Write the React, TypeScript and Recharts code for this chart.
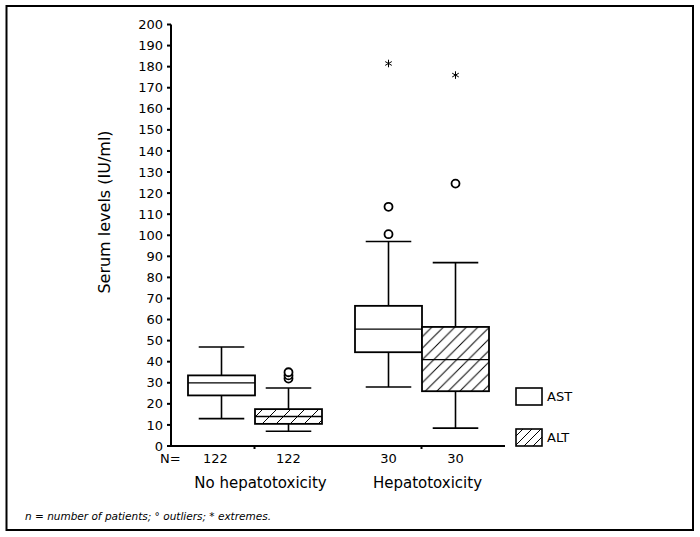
import React from 'react';
import { ComposedChart, Bar, XAxis, YAxis, Legend } from 'recharts';

const categories = ['No hepatotoxicity', 'Hepatotoxicity'];
const seriesNames = ['AST', 'ALT'];
const astN = [122, 30];
const altN = [122, 30];
const astMin = [13, 28];
const astQ1 = [24, 44.5];
const astMedian = [30, 55.5];
const astQ3 = [33.5, 66.5];
const astMax = [47, 97];
const astOutliers = [[], [100.5, 113.5]];
const astExtremes = [[], [181.5]];
const altMin = [7, 8.5];
const altQ1 = [10.5, 26];
const altMedian = [14, 41];
const altQ3 = [17.5, 56.5];
const altMax = [27.5, 87];
const altOutliers = [[32, 33.5, 35], [124.5]];
const altExtremes = [[], [176]];
const yTicks = [0, 10, 20, 30, 40, 50, 60, 70, 80, 90, 100, 110, 120, 130, 140, 150, 160, 170, 180, 190, 200];

const FONT = '"DejaVu Sans", sans-serif';

const data = categories.map((c, i) => ({
  category: c,
  ast: [astMin[i], astMax[i]],
  alt: [altMin[i], altMax[i]],
  astStats: { min: astMin[i], q1: astQ1[i], med: astMedian[i], q3: astQ3[i], max: astMax[i], out: astOutliers[i], ext: astExtremes[i], n: astN[i] },
  altStats: { min: altMin[i], q1: altQ1[i], med: altMedian[i], q3: altQ3[i], max: altMax[i], out: altOutliers[i], ext: altExtremes[i], n: altN[i] },
}));

const HatchDefs = ({ id, size }: { id: string; size: number }) => (
  <defs>
    <pattern id={id} patternUnits="userSpaceOnUse" width={size} height={size}>
      <rect x={0} y={0} width={size} height={size} fill="#fff" />
      <path
        d={`M0,${size} L${size},0 M${-size / 4},${size / 4} L${size / 4},${-size / 4} M${(size * 3) / 4},${(size * 5) / 4} L${(size * 5) / 4},${(size * 3) / 4}`}
        stroke="#000"
        strokeWidth={1}
      />
    </pattern>
  </defs>
);

const BoxShape = (props: any) => {
  const { x, y, width, height, payload, series } = props;
  const s = payload[series + 'Stats'];
  const hatched = series === 'alt';
  const pix = (v: number) => y + (height * (s.max - v)) / (s.max - s.min);
  const cx = x + width / 2;
  const capW = width * 0.68;
  const pid = 'hatch-' + series + '-' + payload.category.replace(/\s/g, '');
  const stroke = '#000';
  const isFirst = payload.category === categories[0];
  return (
    <g>
      {hatched && <HatchDefs id={pid} size={isFirst ? 14 : 11.5} />}
      <line x1={cx} x2={cx} y1={pix(s.max)} y2={pix(s.q3)} stroke={stroke} strokeWidth={1.6} />
      <line x1={cx} x2={cx} y1={pix(s.q1)} y2={pix(s.min)} stroke={stroke} strokeWidth={1.6} />
      <line x1={cx - capW / 2} x2={cx + capW / 2} y1={pix(s.max)} y2={pix(s.max)} stroke={stroke} strokeWidth={1.6} />
      <line x1={cx - capW / 2} x2={cx + capW / 2} y1={pix(s.min)} y2={pix(s.min)} stroke={stroke} strokeWidth={1.6} />
      <rect x={x} y={pix(s.q3)} width={width} height={pix(s.q1) - pix(s.q3)} fill={hatched ? `url(#${pid})` : '#fff'} stroke={stroke} strokeWidth={1.8} />
      <line x1={x} x2={x + width} y1={pix(s.med)} y2={pix(s.med)} stroke={stroke} strokeWidth={1.3} />
      {s.out.map((v: number, i: number) => (
        <circle key={'o' + i} cx={cx} cy={pix(v)} r={4} fill="#fff" stroke={stroke} strokeWidth={1.8} />
      ))}
      {s.ext.map((v: number, i: number) => {
        const py = pix(v);
        return (
          <g key={'e' + i} stroke={stroke} strokeWidth={1}>
            <line x1={cx} x2={cx} y1={py - 3.8} y2={py + 3.8} />
            <line x1={cx - 3.3} x2={cx + 3.3} y1={py - 1.9} y2={py + 1.9} />
            <line x1={cx - 3.3} x2={cx + 3.3} y1={py + 1.9} y2={py - 1.9} />
          </g>
        );
      })}
      <text x={cx - (series === 'ast' && isFirst ? 6 : 0)} y={pix(0) + 16.5} textAnchor="middle" fontSize={13} fontFamily={FONT} fill="#000">
        {s.n}
      </text>
    </g>
  );
};

const GroupTick = (props: any) => {
  const { x, y, payload } = props;
  return (
    <text x={x + 6} y={y + 37} textAnchor="middle" fontSize={15} fontFamily={FONT} fill="#000">
      {payload.value}
    </text>
  );
};

const LegendContent = (props: any) => {
  const items = [...(props.payload || [])].sort(
    (a: any, b: any) => seriesNames.indexOf(a.value) - seriesNames.indexOf(b.value)
  );
  return (
    <div style={{ fontFamily: FONT, fontSize: 13, color: '#000' }}>
      {items.map((it: any, i: number) => {
        const hatched = it.dataKey === 'alt';
        const pid = 'leg-hatch-' + i;
        return (
          <div key={i} style={{ display: 'flex', alignItems: 'center', height: 19, marginBottom: 22 }}>
            <svg width={30} height={19} style={{ display: 'block' }}>
              {hatched && <HatchDefs id={pid} size={9} />}
              <rect x={1} y={1} width={26} height={17} fill={hatched ? `url(#${pid})` : '#fff'} stroke="#000" strokeWidth={1.6} />
            </svg>
            <span style={{ marginLeft: 2 }}>{it.value}</span>
          </div>
        );
      })}
    </div>
  );
};

export default function App() {
  return (
    <div style={{ position: 'absolute', left: 0, top: 0, width: 700, height: 537, background: '#fff' }}>
      <svg width={700} height={537} style={{ position: 'absolute', left: 0, top: 0 }}>
        <rect x={6.5} y={6} width={686.5} height={524} fill="#fff" stroke="#000" strokeWidth={2} />
      </svg>
      <div style={{ position: 'absolute', left: 0, top: 0 }}>
        <ComposedChart
          width={700}
          height={537}
          data={data}
          margin={{ top: 24.5, right: 195, bottom: 31, left: 0 }}
          barGap={0}
          barSize={67}
        >
          <XAxis
            dataKey="category"
            height={60}
            tickSize={3}
            tickMargin={2}
            axisLine={{ stroke: '#000', strokeWidth: 2 }}
            tickLine={{ stroke: '#000', strokeWidth: 2 }}
            tick={<GroupTick />}
            interval={0}
          />
          <YAxis
            width={171}
            domain={[0, 200]}
            ticks={yTicks}
            interval={0}
            tickSize={4}
            tickMargin={4}
            axisLine={{ stroke: '#000', strokeWidth: 2 }}
            tickLine={{ stroke: '#000', strokeWidth: 2 }}
            tick={{ fontSize: 13, fill: '#000', fontFamily: FONT }}
          />
          <Bar dataKey="ast" name="AST" isAnimationActive={false} shape={(p: any) => <BoxShape {...p} series="ast" />} />
          <Bar dataKey="alt" name="ALT" isAnimationActive={false} shape={(p: any) => <BoxShape {...p} series="alt" />} />
          <Legend
            layout="vertical"
            align="center"
            verticalAlign="middle"
            content={<LegendContent />}
            wrapperStyle={{ left: 515, top: 386.5, width: 80 }}
          />
        </ComposedChart>
      </div>
      <svg width={700} height={537} style={{ position: 'absolute', left: 0, top: 0, pointerEvents: 'none' }}>
        <text x={0} y={0} transform="translate(109.5,212) rotate(-90)" textAnchor="middle" fontSize={16} fontFamily={FONT} fill="#000">
          Serum levels (IU/ml)
        </text>
        <text x={160} y={462.5} fontSize={13} fontFamily={FONT} fill="#000">N=</text>
        <text x={25} y={520} fontSize={10.5} fontStyle="italic" fontFamily={FONT} fill="#000">
          n = number of patients; ° outliers; * extremes.
        </text>
      </svg>
    </div>
  );
}
